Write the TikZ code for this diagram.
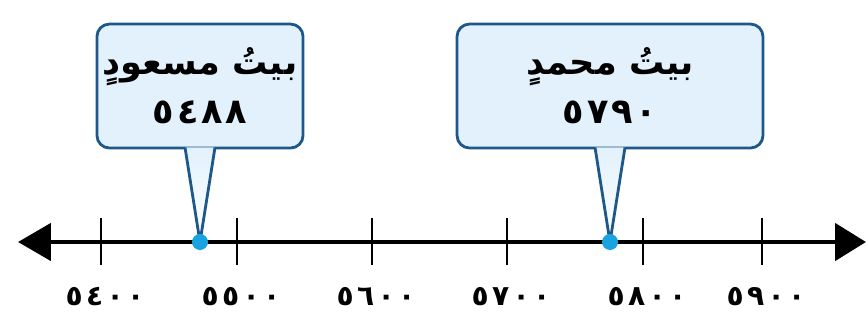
\documentclass[tikz,border=0pt]{standalone}
\usepackage{fontspec}
\newfontfamily\arabicfont[Script=Arabic]{DejaVu Sans}
\TeXXeTstate=1
\usetikzlibrary{arrows.meta,
                positioning}
\definecolor{calloutline}{RGB}{30,88,138}
\definecolor{calloutfill}{RGB}{226,241,252}
\definecolor{dotblue}{RGB}{27,163,224}
\tikzset{callout/.style=
   {rectangle,
    draw=calloutline,
    line width=1.6pt,
    rounded corners=0.25cm,
    fill=calloutfill,
    align=center,
    minimum height=2.48cm,
    font=\arabicfont\bfseries\fontsize{20}{28}\selectfont}}
\tikzset{pointer/.style = {draw=calloutline, line width=1.6pt, line join=miter, top color=calloutfill, bottom color=white}}
\tikzset{numberline/.style = {draw, line width=2.8pt, {Triangle[length=0.66cm,width=0.74cm]}-{Triangle[length=0.62cm,width=0.74cm]}}}
\tikzset{tickmark/.style = {draw, line width=1.3pt}}
\tikzset{ticklabel/.style = {font=\arabicfont\bfseries\fontsize{16}{18}\selectfont\addfontfeature{LetterSpace=12}}}
\tikzset{markdot/.style = {circle, fill=dotblue, inner sep=0pt, minimum size=0.32cm}}
\newcommand\spacednum[1]{{\addfontfeature{LetterSpace=8}#1}}

\begin{document}
\begin{tikzpicture}[x=0.02cm, y=0.02cm]
    \useasboundingbox (0,0) rectangle (868,322);

    % Number line
    \coordinate (lineleft) at (18,80);
    \coordinate (lineright) at (866,80);
    \path [numberline] (lineleft) -- (lineright);

    % Ticks and labels
    \foreach \x/\val [count=\i] in {101/٥٤٠٠, 237/٥٥٠٠, 372/٥٦٠٠, 507/٥٧٠٠, 643/٥٨٠٠, 762/٥٩٠٠} {
        \coordinate (tick\i) at (\x,80);
        \path [tickmark] ([yshift=0.48cm] tick\i) -- ([yshift=-0.46cm] tick\i);
        \node [ticklabel, below of=tick\i, node distance=1.1cm, xshift=0.08cm] (label\i) {\val};
    }

    % Houses on the line
    \coordinate (house1) at (200,80);
    \coordinate (house2) at (610,80);

    % Callouts
    \node [callout, minimum width=4.06cm, above of=house1, node distance=3.12cm] (box1)
        {\beginR بيتُ مسعودٍ\endR\\\spacednum{٥٤٨٨}};
    \node [callout, minimum width=6.12cm, above of=house2, node distance=3.12cm] (box2)
        {\beginR بيتُ محمدٍ\endR\\\spacednum{٥٧٩٠}};

    % Pointers
    \path [pointer]
    ([xshift=-0.3cm, yshift=0.04cm] box1.south)
    -- (house1)
    -- ([xshift=0.3cm, yshift=0.04cm] box1.south);

    \path [pointer]
    ([xshift=-0.3cm, yshift=0.04cm] box2.south)
    -- (house2)
    -- ([xshift=0.3cm, yshift=0.04cm] box2.south);

    % Dots
    \node [markdot] (dot1) at (house1) {};
    \node [markdot] (dot2) at (house2) {};

\end{tikzpicture}
\end{document}
